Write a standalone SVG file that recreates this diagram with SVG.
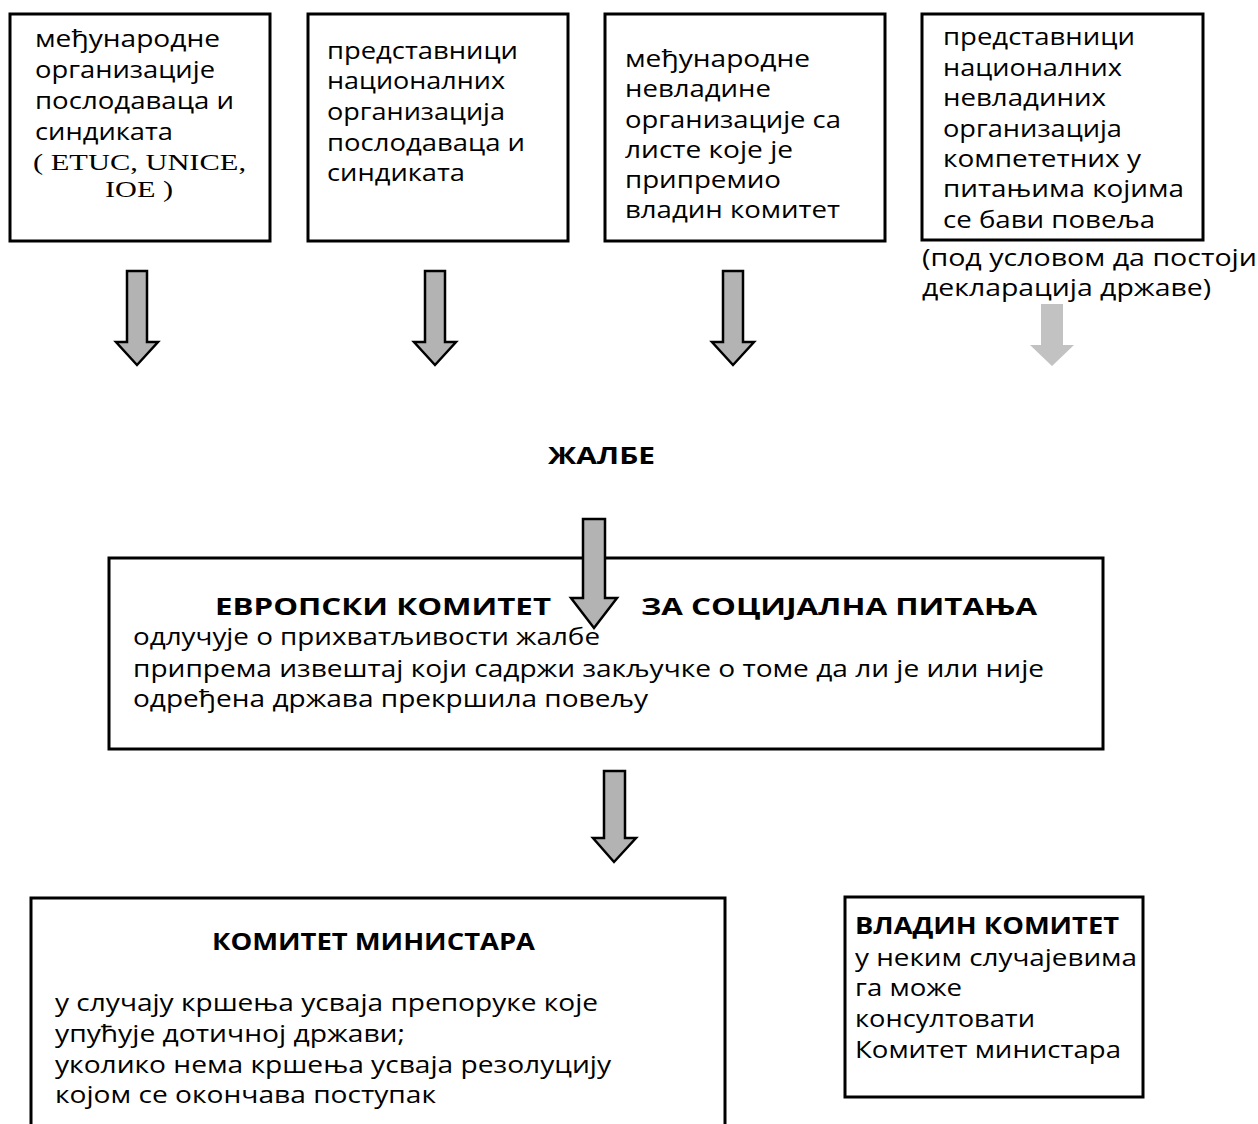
<svg xmlns="http://www.w3.org/2000/svg" width="1258" height="1124" viewBox="0 0 1258 1124">
<style>
.box{fill:#fff;stroke:#000;stroke-width:3}
.t{font-family:"Open Sans","Noto Sans","DejaVu Sans",sans-serif;font-size:24px;fill:#000}
.b{font-family:"Open Sans","Noto Sans","DejaVu Sans",sans-serif;font-size:23px;font-weight:bold;fill:#000}
.s{font-family:"Liberation Serif","Times New Roman",serif;font-size:24px;fill:#000}
.arr{fill:#b3b3b3;stroke:#000;stroke-width:2.5;stroke-linejoin:miter}
.arrl{fill:#c2c2c2;stroke:none}
</style>
<rect width="1258" height="1124" fill="#fff"/>
<g id="n1">
<rect class="box" x="10" y="14" width="260" height="227"/>
<text class="t" x="35" y="47" textLength="185" lengthAdjust="spacingAndGlyphs">међународне</text>
<text class="t" x="35" y="78" textLength="180" lengthAdjust="spacingAndGlyphs">организације</text>
<text class="t" x="35" y="109" textLength="199" lengthAdjust="spacingAndGlyphs">послодаваца и</text>
<text class="t" x="35" y="140" textLength="138" lengthAdjust="spacingAndGlyphs">синдиката</text>
<text class="s" x="33" y="170" textLength="213" lengthAdjust="spacingAndGlyphs">( ETUC, UNICE,</text>
<text class="s" x="105" y="197" textLength="68" lengthAdjust="spacingAndGlyphs">IOE )</text>
</g>
<g id="n2">
<rect class="box" x="308" y="14" width="260" height="227"/>
<text class="t" x="327" y="59" textLength="191" lengthAdjust="spacingAndGlyphs">представници</text>
<text class="t" x="327" y="89" textLength="178" lengthAdjust="spacingAndGlyphs">националних</text>
<text class="t" x="327" y="120" textLength="178" lengthAdjust="spacingAndGlyphs">организација</text>
<text class="t" x="327" y="151" textLength="198" lengthAdjust="spacingAndGlyphs">послодаваца и</text>
<text class="t" x="327" y="181" textLength="138" lengthAdjust="spacingAndGlyphs">синдиката</text>
</g>
<g id="n3">
<rect class="box" x="605" y="14" width="280" height="227"/>
<text class="t" x="625" y="67" textLength="185" lengthAdjust="spacingAndGlyphs">међународне</text>
<text class="t" x="625" y="97" textLength="146" lengthAdjust="spacingAndGlyphs">невладине</text>
<text class="t" x="625" y="128" textLength="216" lengthAdjust="spacingAndGlyphs">организације са</text>
<text class="t" x="625" y="158" textLength="168" lengthAdjust="spacingAndGlyphs">листе које је</text>
<text class="t" x="625" y="188" textLength="156" lengthAdjust="spacingAndGlyphs">припремио</text>
<text class="t" x="625" y="218" textLength="215" lengthAdjust="spacingAndGlyphs">владин комитет</text>
</g>
<g id="n4">
<rect class="box" x="922" y="14" width="281" height="226"/>
<text class="t" x="943" y="45" textLength="192" lengthAdjust="spacingAndGlyphs">представници</text>
<text class="t" x="943" y="76" textLength="179" lengthAdjust="spacingAndGlyphs">националних</text>
<text class="t" x="943" y="106" textLength="163" lengthAdjust="spacingAndGlyphs">невладиних</text>
<text class="t" x="943" y="137" textLength="179" lengthAdjust="spacingAndGlyphs">организација</text>
<text class="t" x="943" y="167" textLength="198" lengthAdjust="spacingAndGlyphs">компететних у</text>
<text class="t" x="943" y="197" textLength="241" lengthAdjust="spacingAndGlyphs">питањима којима</text>
<text class="t" x="943" y="228" textLength="212" lengthAdjust="spacingAndGlyphs">се бави повеља</text>
</g>
<g id="n4note">
<text class="t" x="922" y="266" textLength="335" lengthAdjust="spacingAndGlyphs">(под условом да постоји</text>
<text class="t" x="922" y="296" textLength="289" lengthAdjust="spacingAndGlyphs">декларација државе)</text>
</g>
<g id="n5">
<text class="b" x="548" y="464" textLength="107" lengthAdjust="spacingAndGlyphs">ЖАЛБЕ</text>
</g>
<g id="n6">
<rect class="box" x="109" y="558" width="994" height="191"/>
<text class="b" x="215" y="615" textLength="336" lengthAdjust="spacingAndGlyphs">ЕВРОПСКИ КОМИТЕТ</text>
<text class="b" x="641" y="615" textLength="396" lengthAdjust="spacingAndGlyphs">ЗА СОЦИЈАЛНА ПИТАЊА</text>
<text class="t" x="133" y="645" textLength="467" lengthAdjust="spacingAndGlyphs">одлучује о прихватљивости жалбе</text>
<text class="t" x="133" y="677" textLength="911" lengthAdjust="spacingAndGlyphs">припрема извештај који садржи закључке о томе да ли је или није</text>
<text class="t" x="133" y="707" textLength="515" lengthAdjust="spacingAndGlyphs">одређена држава прекршила повељу</text>
</g>
<g id="n7">
<rect class="box" x="31" y="898" width="694" height="250"/>
<text class="b" x="212" y="950" textLength="323" lengthAdjust="spacingAndGlyphs">КОМИТЕТ МИНИСТАРА</text>
<text class="t" x="55" y="1011" textLength="543" lengthAdjust="spacingAndGlyphs">у случају кршења усваја препоруке које</text>
<text class="t" x="55" y="1042" textLength="350" lengthAdjust="spacingAndGlyphs">упућује дотичној држави;</text>
<text class="t" x="55" y="1073" textLength="556" lengthAdjust="spacingAndGlyphs">уколико нема кршења усваја резолуцију</text>
<text class="t" x="55" y="1103" textLength="381" lengthAdjust="spacingAndGlyphs">којом се окончава поступак</text>
</g>
<g id="n8">
<rect class="box" x="845" y="897" width="298" height="200"/>
<text class="b" x="855" y="934" textLength="264" lengthAdjust="spacingAndGlyphs">ВЛАДИН КОМИТЕТ</text>
<text class="t" x="855" y="966" textLength="282" lengthAdjust="spacingAndGlyphs">у неким случајевима</text>
<text class="t" x="855" y="996" textLength="107" lengthAdjust="spacingAndGlyphs">га може</text>
<text class="t" x="855" y="1027" textLength="180" lengthAdjust="spacingAndGlyphs">консултовати</text>
<text class="t" x="855" y="1058" textLength="266" lengthAdjust="spacingAndGlyphs">Комитет министара</text>
</g>
<g id="connectors">
<polygon class="arr" points="127,271 147,271 147,342 158,342 137,365 116,342 127,342"/>
<polygon class="arr" points="425,271 445,271 445,342 456,342 435,365 414,342 425,342"/>
<polygon class="arr" points="723,271 743,271 743,342 754,342 733,365 712,342 723,342"/>
<polygon class="arrl" points="1041,304 1063,304 1063,345 1074,345 1052,366 1030,345 1041,345"/>
<polygon class="arr" points="583,519 605,519 605,598 617,598 594,628 571,598 583,598"/>
<polygon class="arr" points="604,771 625,771 625,838 636,838 614,862 593,838 604,838"/>
</g>
</svg>
